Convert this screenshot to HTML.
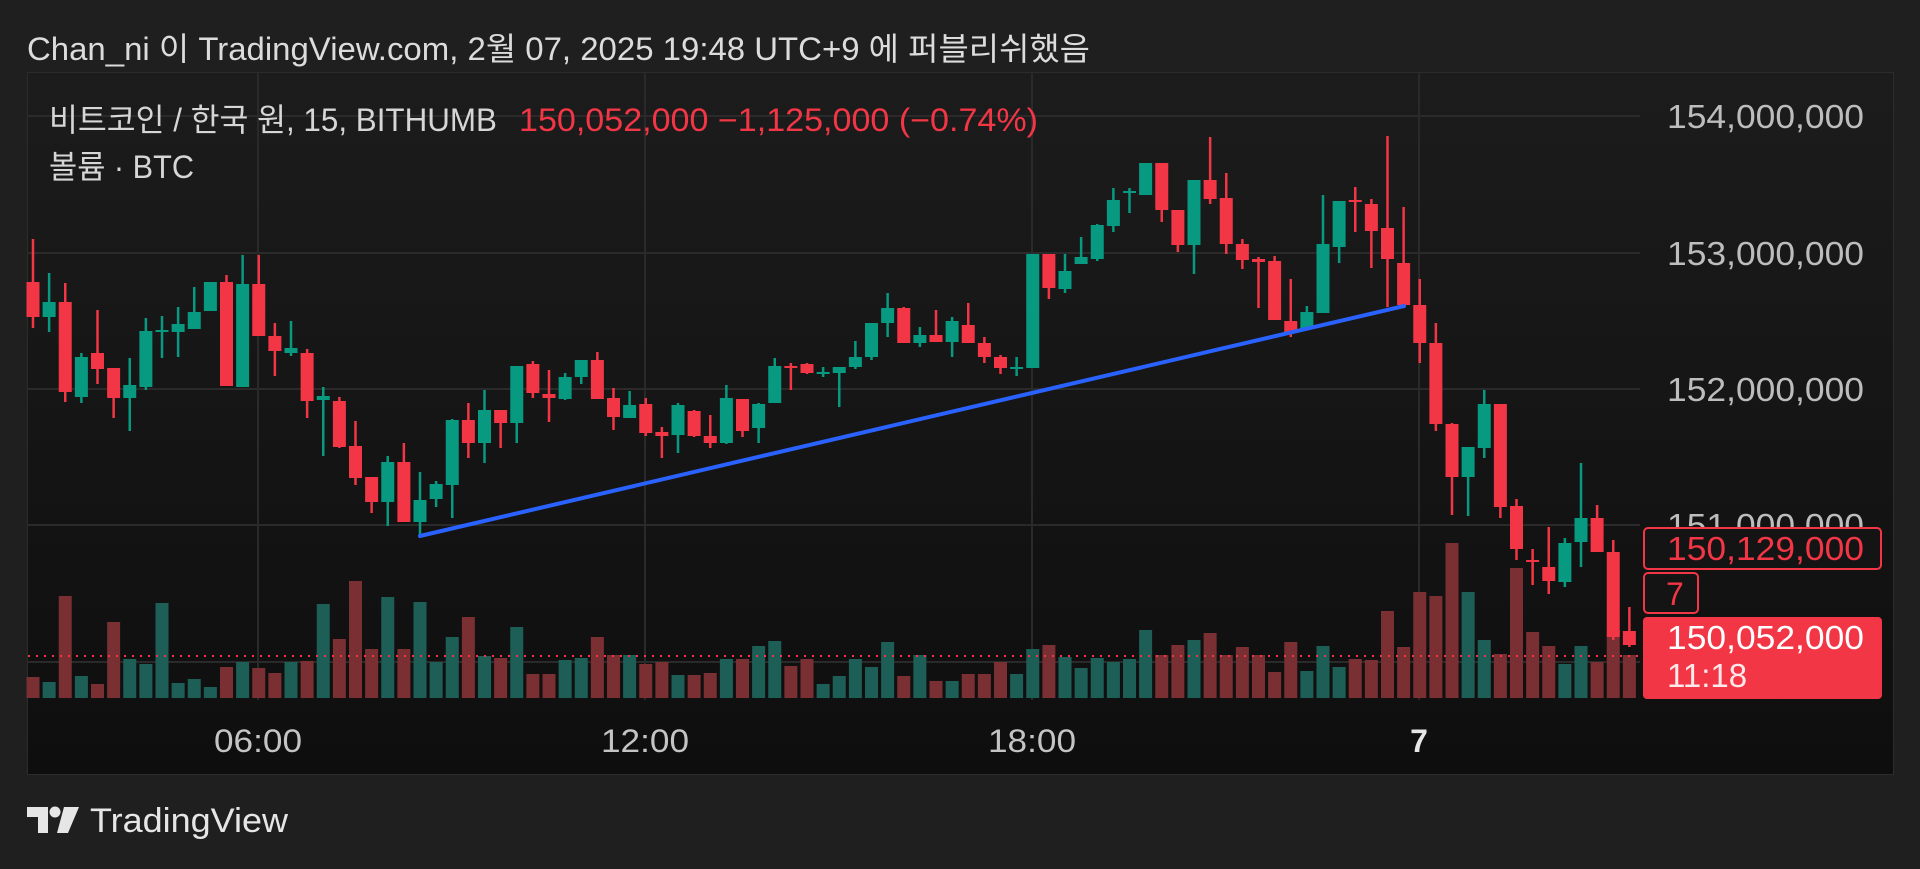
<!DOCTYPE html>
<html><head><meta charset="utf-8"><style>
html,body{margin:0;padding:0;background:#1f1f1f;width:1920px;height:869px;overflow:hidden}
svg{display:block}
text{font-family:"Liberation Sans","Noto Sans CJK KR",sans-serif}
</style></head><body>
<svg id="s" width="1920" height="869" viewBox="0 0 1920 869" xmlns="http://www.w3.org/2000/svg">
<defs><linearGradient id="bg" x1="0" y1="0" x2="0" y2="1"><stop offset="0" stop-color="#1c1c1c"/><stop offset="1" stop-color="#0e0e0e"/></linearGradient></defs>
<rect x="0" y="0" width="1920" height="869" fill="#1f1f1f"/>
<text x="27" y="60" font-size="32" fill="#dcdcdc" textLength="1063" lengthAdjust="spacingAndGlyphs">Chan_ni 이 TradingView.com, 2월 07, 2025 19:48 UTC+9 에 퍼블리쉬했음</text>
<rect x="27.5" y="72.5" width="1866" height="702" fill="url(#bg)" stroke="#2c2c2c" stroke-width="1"/>
<g stroke="#2a2a2a" stroke-width="2">
<line x1="28" y1="116" x2="1640" y2="116"/><line x1="28" y1="253" x2="1640" y2="253"/><line x1="28" y1="389" x2="1640" y2="389"/><line x1="28" y1="525" x2="1640" y2="525"/><line x1="28" y1="662" x2="1640" y2="662"/>
<line x1="258" y1="73" x2="258" y2="700"/><line x1="645" y1="73" x2="645" y2="700"/><line x1="1032" y1="73" x2="1032" y2="700"/><line x1="1419" y1="73" x2="1419" y2="700"/>
</g>
<g id="vol"></g>
<line x1="28" y1="656" x2="1640" y2="656" stroke="#f23645" stroke-width="2" stroke-dasharray="2 6"/>
<g id="cnd"></g>
<line x1="420" y1="536" x2="1404" y2="306" stroke="#2962ff" stroke-width="4" stroke-linecap="round"/>
<text x="49" y="131" font-size="32" fill="#d6d6d6" textLength="448" lengthAdjust="spacingAndGlyphs">비트코인 / 한국 원, 15, BITHUMB</text>
<text x="519" y="131" font-size="32" fill="#f23645" textLength="519" lengthAdjust="spacingAndGlyphs">150,052,000  −1,125,000 (−0.74%)</text>
<text x="49" y="178" font-size="32" fill="#d6d6d6" textLength="145" lengthAdjust="spacingAndGlyphs">볼륨 · BTC</text>
<g font-size="33" fill="#bdbdbd">
<text x="1667" y="128" textLength="197" lengthAdjust="spacingAndGlyphs">154,000,000</text>
<text x="1667" y="265" textLength="197" lengthAdjust="spacingAndGlyphs">153,000,000</text>
<text x="1667" y="401" textLength="197" lengthAdjust="spacingAndGlyphs">152,000,000</text>
<text x="1667" y="537" textLength="197" lengthAdjust="spacingAndGlyphs">151,000,000</text>
</g>
<rect x="1644" y="528" width="237" height="41" rx="4" fill="#141414" stroke="#f23645" stroke-width="2"/>
<text x="1667" y="560" font-size="33" fill="#f23645" textLength="197" lengthAdjust="spacingAndGlyphs">150,129,000</text>
<rect x="1644" y="573" width="54" height="40" rx="4" fill="#141414" stroke="#f23645" stroke-width="2"/>
<text x="1666" y="605" font-size="32" fill="#f23645">7</text>
<rect x="1643" y="617" width="239" height="82" rx="4" fill="#f23645"/>
<text x="1667" y="649" font-size="33" fill="#ffffff" textLength="197" lengthAdjust="spacingAndGlyphs">150,052,000</text>
<text x="1667" y="687" font-size="33" fill="#ffe8ea">11:18</text>
<g font-size="32" fill="#c4c4c4" text-anchor="middle">
<text x="258" y="752" textLength="88" lengthAdjust="spacingAndGlyphs">06:00</text>
<text x="645" y="752" textLength="88" lengthAdjust="spacingAndGlyphs">12:00</text>
<text x="1032" y="752" textLength="88" lengthAdjust="spacingAndGlyphs">18:00</text>
<text x="1419" y="752" font-weight="bold" fill="#e6e6e6">7</text>
</g>
<g fill="#e6e6e6">
<path d="M27 807 H48 V833 H38 V817 H27 Z"/>
<circle cx="55" cy="812" r="5.5"/>
<path d="M64 807 H79 L68 833 H57 Z"/>
</g>
<text x="90" y="832" font-size="34" fill="#e6e6e6" textLength="198" lengthAdjust="spacingAndGlyphs">TradingView</text>
</svg>
<script>
var d=[[282,239,328,317,677],[317,273,332,302,682],[302,283,402,392,596],[397,353,403,357,676],[353,310,384,369,684],[368,368,418,398,622],[398,358,431,385,659],[387,318,390,331,664],[332,316,358,330,603],[332,307,357,324,683],[329,287,329,312,679],[311,282,311,282,687],[282,275,386,386,667],[387,255,387,284,662],[284,255,336,336,668],[336,323,376,351,673],[353,321,356,348,662],[353,349,418,401,661],[400,387,456,396,604],[401,397,448,447,639],[446,421,485,478,581],[477,477,513,502,649],[502,456,526,462,597],[462,443,522,522,649],[522,472,535,500,602],[499,481,507,484,662],[485,419,518,420,637],[420,403,458,443,617],[443,390,463,410,656],[410,410,448,423,658],[423,366,443,366,627],[364,361,398,393,674],[394,370,422,398,674],[399,373,400,377,660],[377,360,384,360,658],[360,352,399,399,637],[398,388,430,417,655],[418,391,418,405,655],[404,398,436,433,664],[432,427,458,436,662],[435,403,453,405,675],[411,410,437,436,675],[436,415,448,443,673],[443,385,444,398,659],[399,399,437,431,659],[428,403,443,404,646],[403,358,403,366,641],[366,363,390,368,666],[364,363,374,373,659],[373,367,377,372,684],[373,367,407,367,676],[367,341,369,357,659],[357,323,360,323,667],[323,293,337,308,642],[308,307,343,343,676],[343,327,347,335,655],[335,310,342,342,681],[342,317,357,321,681],[325,303,343,343,674],[343,337,363,357,674],[357,355,374,368,662],[369,357,376,367,674],[368,254,368,254,649],[254,254,299,288,645],[289,254,293,271,657],[264,237,264,257,668],[259,224,261,225,658],[226,188,232,200,662],[193,188,213,191,659],[195,163,195,163,630],[163,163,222,210,655],[210,210,252,245,645],[245,180,274,180,640],[180,137,204,199,633],[198,173,254,244,655],[244,239,269,260,647],[259,257,308,262,655],[261,256,320,320,672],[321,279,337,333,642],[329,306,329,312,671],[313,195,313,244,646],[247,201,263,201,667],[200,187,232,202,659],[204,199,268,231,660],[228,136,307,259,611],[263,207,305,305,647],[305,279,363,343,592],[343,323,431,424,596],[424,423,515,477,543],[477,447,516,447,592],[448,390,458,404,640],[404,404,518,507,654],[506,499,560,549,568],[560,549,585,561,632],[567,527,594,581,646],[582,538,587,543,664],[542,463,567,518,646],[518,505,552,552,662],[552,540,640,637,631],[631,607,647,645,655]];
var NS="http://www.w3.org/2000/svg",V=document.getElementById("vol"),C=document.getElementById("cnd");
function el(g,t,a){var e=document.createElementNS(NS,t);for(var k in a)e.setAttribute(k,a[k]);g.appendChild(e);}
d.forEach(function(c,i){var x=33+i*16.125,g=c[3]<=c[0]&&!(c[3]==c[0]&&i==5);
var col=g?"#089981":"#f23645",vc=g?"#1d5f56":"#7a2f33";
el(V,"rect",{x:x-6.5,y:c[4],width:13,height:698-c[4],fill:vc});
el(C,"rect",{x:x-1.25,y:c[1],width:2.5,height:Math.max(1,c[2]-c[1]),fill:col});
var t=Math.min(c[0],c[3]),b=Math.max(c[0],c[3]);
el(C,"rect",{x:x-6.5,y:t,width:13,height:Math.max(2,b-t),fill:col});});
</script>
</body></html>
